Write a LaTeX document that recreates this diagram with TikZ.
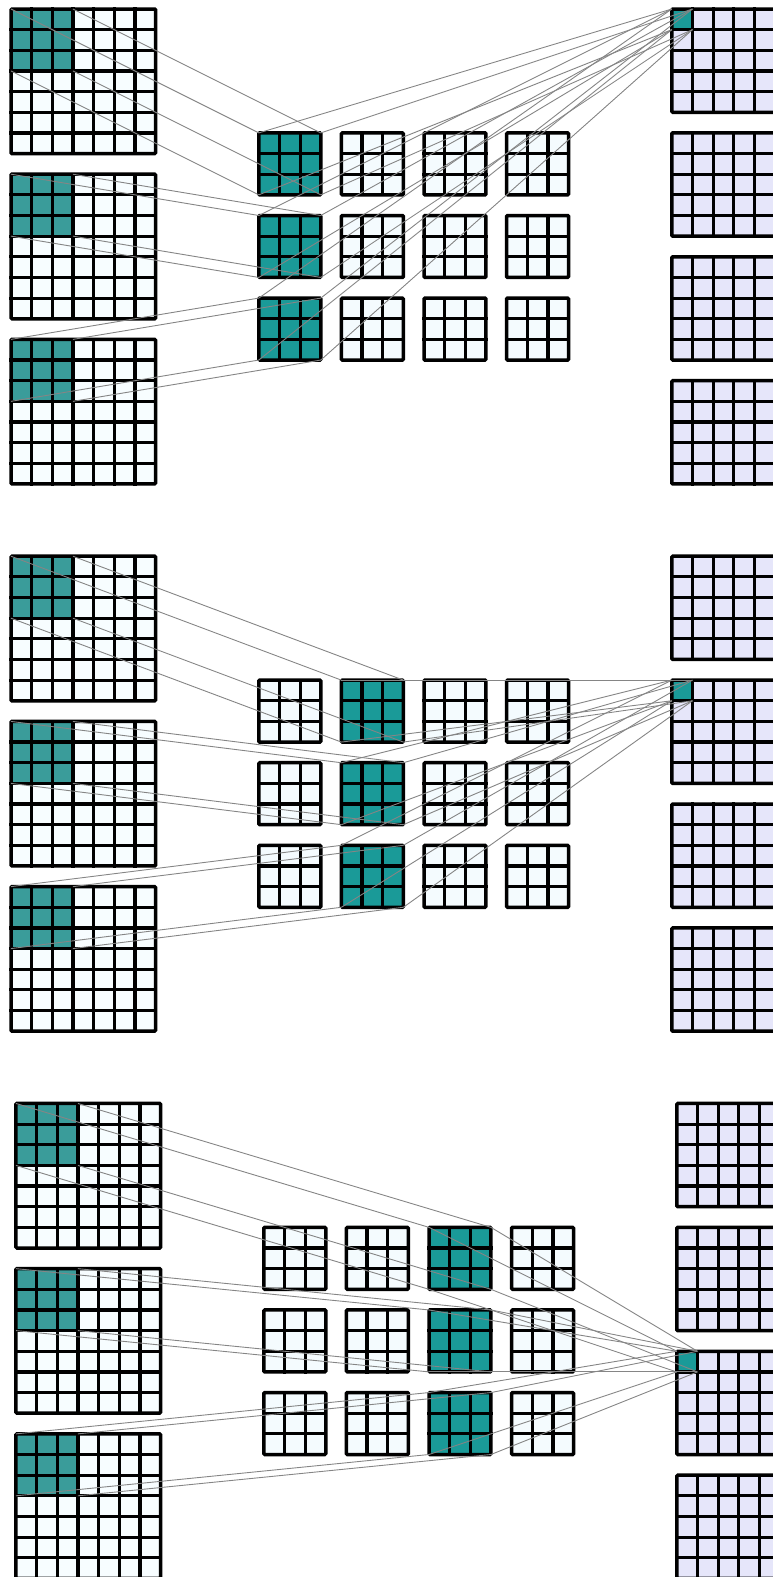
\documentclass[tikz,border=0pt]{standalone}
\definecolor{inbg}{HTML}{F7FDFF}
\definecolor{fbg}{HTML}{F4FBFE}
\definecolor{outbg}{HTML}{E6E6FA}
\definecolor{pteal}{HTML}{3A9C9A}
\definecolor{fteal}{HTML}{1A9A98}
\definecolor{conncol}{HTML}{858585}
\tikzset{
  cellbox/.style={inner sep=0pt, outer sep=0pt, anchor=north west, draw=none},
  gridline/.style={line width=3.2pt, black, line cap=rect},
  border/.style={line width=3.5pt, black, rounded corners=1pt},
  conn/.style={line width=0.9pt, draw=conncol},
}
\newcommand\cpt{20.65pt}
\newcommand\gridbox[5]{% name, x, y, n, fill
  \node[cellbox, fill=#5, minimum width=#4*\cpt, minimum height=#4*\cpt] (#1) at (#2,#3) {};
}
\newcommand\gridlines[3]{% x, y, n
  \pgfmathtruncatemacro\nm{#3-1}%
  \foreach \t in {1,...,\nm}{%
    \draw[gridline] (#1+\t,#2) -- (#1+\t,#2+#3);
    \draw[gridline] (#1,#2+\t) -- (#1+#3,#2+\t);
  }%
  \draw[border] (#1,#2) rectangle (#1+#3,#2+#3);
}
\begin{document}
\begin{tikzpicture}[x=20.65pt, y=-20.65pt]
\useasboundingbox (0,0) rectangle (37.4334,76.368);
\clip (0,0) rectangle (37.4334,76.368);
\foreach \p/\ox/\oy in {0/0.5327/0.4358, 1/0.5327/26.9358, 2/0.7748/53.4358}{
  % inputs
  \foreach \k in {0,1,2}{
    \gridbox{in\p\k}{\ox}{\oy+8*\k}{7}{inbg}
    \gridbox{pa\p\k}{\ox}{\oy+8*\k}{3}{pteal}
    \gridlines{\ox}{\oy+8*\k}{7}
  }
  % filters
  \foreach \i in {0,1,2}{
    \foreach \j in {0,1,2,3}{
      \ifnum\j=\p \def\fc{fteal}\else\def\fc{fbg}\fi
      \gridbox{f\p\i\j}{\ox+12+4*\j}{\oy+6+4*\i}{3}{\fc}
      \gridlines{\ox+12+4*\j}{\oy+6+4*\i}{3}
    }
  }
  % outputs
  \foreach \m in {0,1,2,3}{
    \gridbox{o\p\m}{\ox+32}{\oy+6*\m}{5}{outbg}
    \ifnum\m=\p
      \gridbox{hc\p}{\ox+32}{\oy+6*\m}{1}{fteal}
    \fi
    \gridlines{\ox+32}{\oy+6*\m}{5}
  }
  % connectors input patch -> filter
  \foreach \k in {0,1,2}{
    \foreach \a in {north west, north east, south west, south east}{
      \draw[conn] (pa\p\k.\a) -- (f\p\k\p.\a);
    }
  }
  % connectors filter -> output cell
  \foreach \i in {0,1,2}{
    \foreach \a in {north west, north east, south west, south east}{
      \draw[conn] (f\p\i\p.\a) -- (hc\p.\a);
    }
  }
}
\end{tikzpicture}
\end{document}
